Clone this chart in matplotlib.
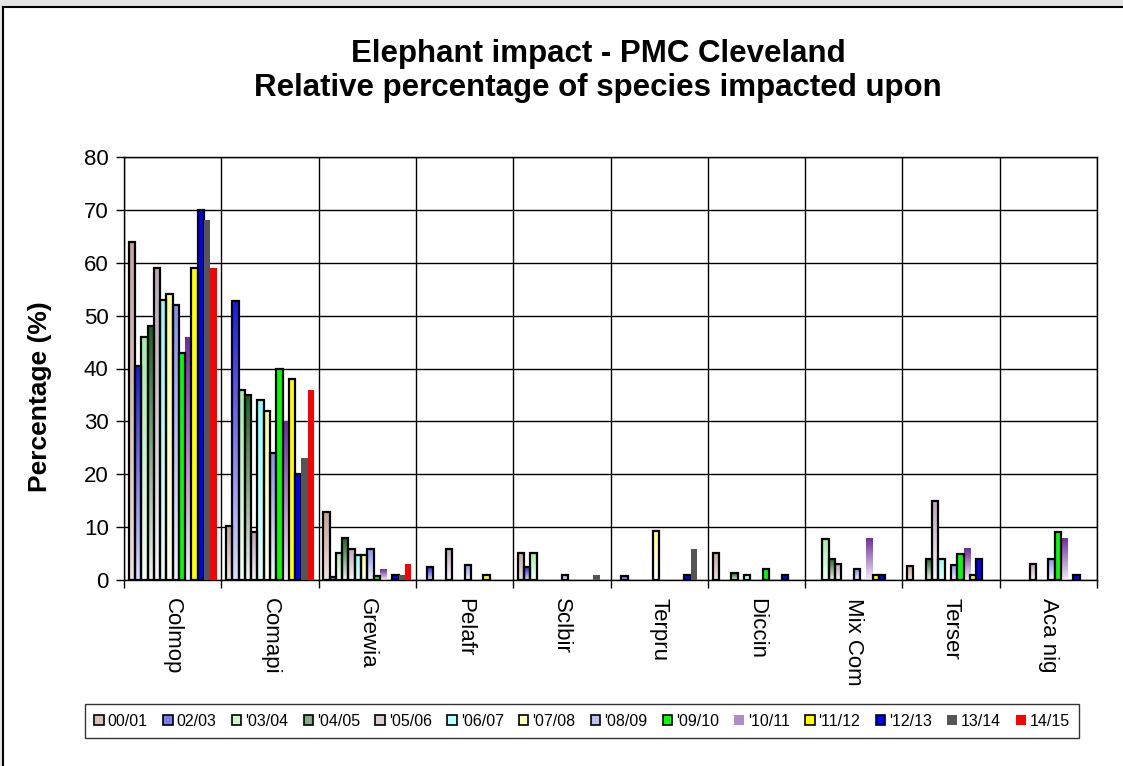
import numpy as np
import matplotlib
matplotlib.use("Agg")
import matplotlib.pyplot as plt
from matplotlib.colors import LinearSegmentedColormap, to_rgb, to_hex
from matplotlib.patches import Rectangle, Patch

plt.rcParams["font.family"] = ["Liberation Sans", "DejaVu Sans"]

species = ["Colmop", "Comapi", "Grewia", "Pelafr", "Sclbir",
           "Terpru", "Diccin", "Mix Com", "Terser", "Aca nig"]
seasons = ["00/01", "02/03", "'03/04", "'04/05", "'05/06", "'06/07", "'07/08",
           "'08/09", "'09/10", "'10/11", "'11/12", "'12/13", "13/14", "14/15"]

# percentage of impacted plants per species, one list per season
s0001 = [64, 10.3, 12.8, 0, 5.2, 0, 5.2, 0, 2.6, 0]
s0203 = [40.5, 52.8, 0.5, 2.5, 2.5, 0.8, 0, 0, 0, 0]
s0304 = [46, 36, 5.1, 0, 5.2, 0, 0, 7.7, 0, 0]
s0405 = [48, 35, 7.9, 0, 0, 0, 1.3, 4, 4, 0]
s0506 = [59, 9, 5.9, 5.9, 0, 0, 0, 3, 15, 3]
s0607 = [53, 34, 4.8, 0, 0, 0, 1, 0, 4, 0]
s0708 = [54, 32, 4.8, 0, 0, 9.2, 0, 0, 0, 0]
s0809 = [52, 24, 5.9, 2.9, 1, 0, 0, 2, 2.9, 4]
s0910 = [43, 40, 0.8, 0, 0, 0, 2, 0, 5, 9]
s1011 = [46, 30, 2, 0, 0, 0, 0, 8, 6, 8]
s1112 = [59, 38, 0, 1, 0, 0, 0, 1, 1, 0]
s1213 = [70, 20, 1, 0, 0, 1, 1, 1, 4, 1]
s1314 = [68, 23, 1, 0, 1, 5.8, 0, 0, 0, 0]
s1415 = [59, 36, 3, 0, 0, 0, 0, 0, 0, 0]
values = [s0001, s0203, s0304, s0405, s0506, s0607, s0708,
          s0809, s0910, s1011, s1112, s1213, s1314, s1415]

# (top colour, bottom colour, outlined)
styles = [
    ("#c4a49c", "#eee0dc", True),
    ("#1a1ae6", "#dcdcff", True),
    ("#a4eea4", "#f2fff2", True),
    ("#186818", "#f0f0f0", True),
    ("#bca6b6", "#f8f4f8", True),
    ("#8cffff", "#e4ffff", True),
    ("#ffff8c", "#fffff2", True),
    ("#8890ee", "#f2f2ff", True),
    ("#00ff00", "#00ff00", True),
    ("#6c2c9c", "#f2eaf8", False),
    ("#ffff00", "#ffff00", True),
    ("#0000ff", "#0000ff", True),
    ("#555555", "#555555", False),
    ("#ff0000", "#ff0000", False),
]


def gradient_fill(ax, patch, top, bottom):
    x, y = patch.get_x(), patch.get_y()
    w, h = patch.get_width(), patch.get_height()
    cmap = LinearSegmentedColormap.from_list("g", [bottom, top])
    grad = np.linspace(0, 1, 64).reshape(-1, 1)
    im = ax.imshow(grad, cmap=cmap, extent=[x, x + w, y, y + h], origin="lower",
                   aspect="auto", interpolation="bilinear", zorder=2)
    im.set_clip_path(patch)
    patch.set_facecolor("none")


fig = plt.figure(figsize=(11.23, 7.66), dpi=100, facecolor="white")
# grey window strip along the top, chart frame below it
fig.patches.append(Rectangle((0, 1 - 7 / 766), 1, 7 / 766, transform=fig.transFigure,
                             facecolor="#e4e4e4", edgecolor="none", zorder=-10))
fig.patches.append(Rectangle((0, 0), 3 / 1123, 1, transform=fig.transFigure,
                             facecolor="#e4e4e4", edgecolor="none", zorder=-10))
fig.add_artist(plt.Line2D([3 / 1123, 1], [1 - 7 / 766] * 2, transform=fig.transFigure,
                          color="black", lw=1.5, zorder=-5))
fig.add_artist(plt.Line2D([3 / 1123] * 2, [0, 1 - 7 / 766], transform=fig.transFigure,
                          color="black", lw=1.5, zorder=-5))

ax = fig.add_axes([124 / 1123, 1 - 580 / 766, 973 / 1123, 423 / 766])
ax.set_facecolor("none")

n = len(seasons)
gap = 1.5
w = 1.0 / (n + gap)
x = np.arange(len(species))
for i, (lab, vals, (top, bot, edged)) in enumerate(zip(seasons, values, styles)):
    pos = x - 0.5 + gap * w / 2 + (i + 0.5) * w
    bars = ax.bar(pos, vals, width=w, color=top,
                  edgecolor="black" if edged else "none",
                  linewidth=1.6 if edged else 0, zorder=3)
    for p, v in zip(bars.patches, vals):
        if v <= 0:
            p.set_visible(False)
        elif top != bot:
            gradient_fill(ax, p, top, bot)

ax.set_xlim(-0.5, len(species) - 0.5)
ax.set_ylim(0, 80)
ax.set_yticks(np.arange(0, 81, 10))
ax.set_xticks(x)
ax.set_xticklabels(species, rotation=-90, fontsize=16, va="top", ha="center")
ax.set_xticks(np.arange(-0.5, len(species), 1), minor=True)
ax.tick_params(axis="x", which="major", length=0, pad=13)
ax.tick_params(axis="x", which="minor", length=6, direction="out", width=1)
ax.tick_params(axis="y", length=6, direction="out", width=1, labelsize=16, pad=5)
ax.set_axisbelow(True)
ax.grid(axis="y", color="black", lw=1)
ax.grid(axis="x", which="minor", color="black", lw=1)
for s in ax.spines.values():
    s.set_color("black")
    s.set_linewidth(1)

fig.text(40 / 1123, 1 - 397 / 766, "Percentage (%)", rotation=90, fontsize=19,
         fontweight="bold", ha="center", va="center")
fig.text(598 / 1123, 1 - 71 / 766,
         "Elephant impact - PMC Cleveland\nRelative percentage of species impacted upon",
         fontsize=22.5, fontweight="bold", ha="center", va="center", linespacing=1.15)

handles = []
for lab, (top, bot, edged) in zip(seasons, styles):
    mid = top if top == bot else to_hex((np.array(to_rgb(top)) + np.array(to_rgb(bot))) / 2)
    handles.append(Patch(facecolor=mid, edgecolor="black" if edged else "none",
                         linewidth=1.2 if edged else 0, label=lab))
leg = fig.legend(handles=handles, loc="center", bbox_to_anchor=(582 / 1123, 1 - 721 / 766),
                 ncol=n, fontsize=11.5, frameon=True, fancybox=False, edgecolor="black",
                 handlelength=0.6, handleheight=0.6, handletextpad=0.25,
                 columnspacing=0.95, borderpad=0.6)
leg.get_frame().set_linewidth(1)

fig.savefig("out.png", dpi=100, facecolor=fig.get_facecolor())
